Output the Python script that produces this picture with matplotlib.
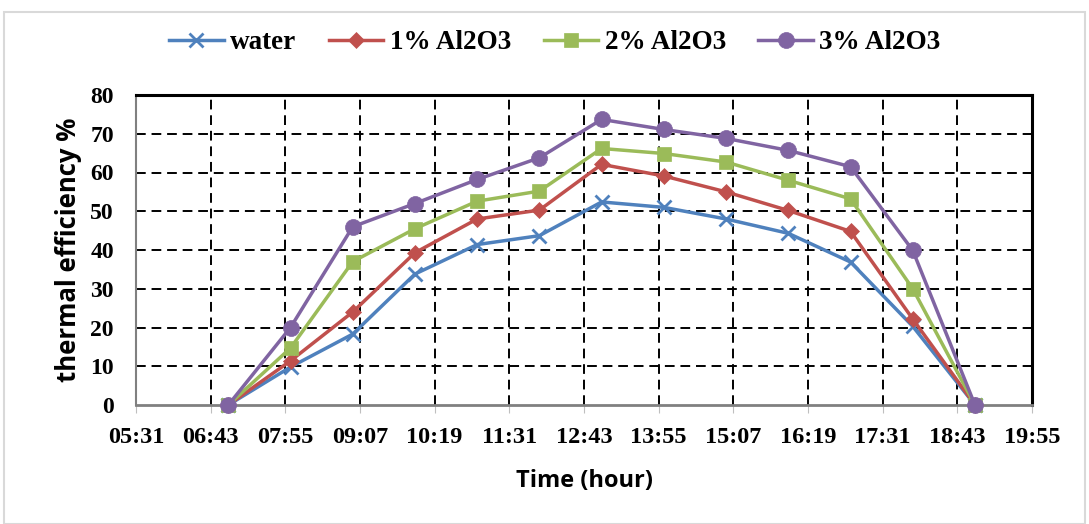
import matplotlib.pyplot as plt
from matplotlib.patches import Rectangle

# Messzeiten (stuendlich) und Wirkungsgrade
times = ['07:00', '08:00', '09:00', '10:00', '11:00', '12:00', '13:00',
         '14:00', '15:00', '16:00', '17:00', '18:00', '19:00']
water = [0, 9.8, 18.3, 33.8, 41.4, 43.7, 52.4, 51.0, 48.0, 44.3, 36.9, 20.3, 0]
al2o3_1 = [0, 11.4, 24.0, 39.3, 48.0, 50.3, 62.1, 59.1, 55.0, 50.2, 44.8, 22.2, 0]
al2o3_2 = [0, 14.7, 37.0, 45.5, 52.6, 55.2, 66.2, 64.9, 62.7, 58.0, 53.2, 30.0, 0]
al2o3_3 = [0, 20.0, 46.0, 52.0, 58.2, 63.8, 73.7, 71.1, 68.8, 65.7, 61.5, 39.9, 0]
tick_labels = ['05:31', '06:43', '07:55', '09:07', '10:19', '11:31', '12:43',
               '13:55', '15:07', '16:19', '17:31', '18:43', '19:55']


def to_min(s):
    h, m = s.split(':')
    return int(h) * 60 + int(m)


x = [to_min(t) for t in times]
xticks = [to_min(t) for t in tick_labels]

fig = plt.figure(figsize=(10.89, 5.24), dpi=100)
ax = fig.add_axes([136 / 1089, 1 - 405 / 524, 896 / 1089, 310 / 524])

# Rahmen um die ganze Grafik
fig.patches.append(Rectangle((4 / 1089, 0.0), 1 - 8 / 1089, 1 - 12 / 524, transform=fig.transFigure,
                             fill=False, edgecolor='#d9d9d9', linewidth=1.5))

series = [
    ('water', water, '#4F81BD', 'x', 10, 2.0),
    ('1% Al2O3', al2o3_1, '#C0504D', 'D', 8, 0),
    ('2% Al2O3', al2o3_2, '#9BBB59', 's', 10.5, 0),
    ('3% Al2O3', al2o3_3, '#8064A2', 'o', 11.5, 0),
]
for name, vals, col, mk, ms, mew in series:
    ax.plot(x, vals, color=col, marker=mk, markersize=ms, linewidth=2.5,
            markeredgewidth=mew if mew else 0.5, markeredgecolor=col,
            label=name, clip_on=False, zorder=3)

ax.set_xlim(xticks[0], xticks[-1])
ax.set_ylim(0, 80)
ax.set_xticks(xticks)
ax.set_xticklabels(tick_labels)
ax.set_yticks(range(0, 81, 10))

for xv in xticks[1:-1]:
    ax.axvline(xv, color='black', linestyle=(0, (5, 3)), linewidth=1.4, zorder=1)
for yv in range(10, 80, 10):
    ax.axhline(yv, color='black', linestyle=(0, (5, 3)), linewidth=1.4, zorder=1)

for lab in ax.get_xticklabels():
    lab.set_fontfamily('Liberation Serif')
    lab.set_fontweight('bold')
    lab.set_fontsize(17.5)
for lab in ax.get_yticklabels():
    lab.set_fontfamily('Liberation Serif')
    lab.set_fontweight('bold')
    lab.set_fontsize(17)
ax.tick_params(axis='x', direction='out', length=6, color='#bfbfbf', pad=10)
ax.tick_params(axis='y', length=0, pad=16)

ax.spines['top'].set_linewidth(2.2)
ax.spines['right'].set_linewidth(2.2)
ax.spines['left'].set_color('#808080')
ax.spines['left'].set_linewidth(1.5)
ax.spines['bottom'].set_color('#808080')
ax.spines['bottom'].set_linewidth(2.0)

ax.set_xlabel('Time (hour)', fontfamily='Open Sans', fontweight='bold', fontsize=17, labelpad=15)
ax.set_ylabel('thermal efficiency %', fontfamily='Open Sans', fontweight='bold', fontsize=18.5, labelpad=6)

leg = fig.legend(loc='center', bbox_to_anchor=(555 / 1089, 1 - 43 / 524), ncol=4, frameon=False,
                 prop={'family': 'Liberation Serif', 'weight': 'bold', 'size': 19.5},
                 handlelength=2.0, handletextpad=0.25, columnspacing=1.2)

fig.savefig('out.png', dpi=100)
